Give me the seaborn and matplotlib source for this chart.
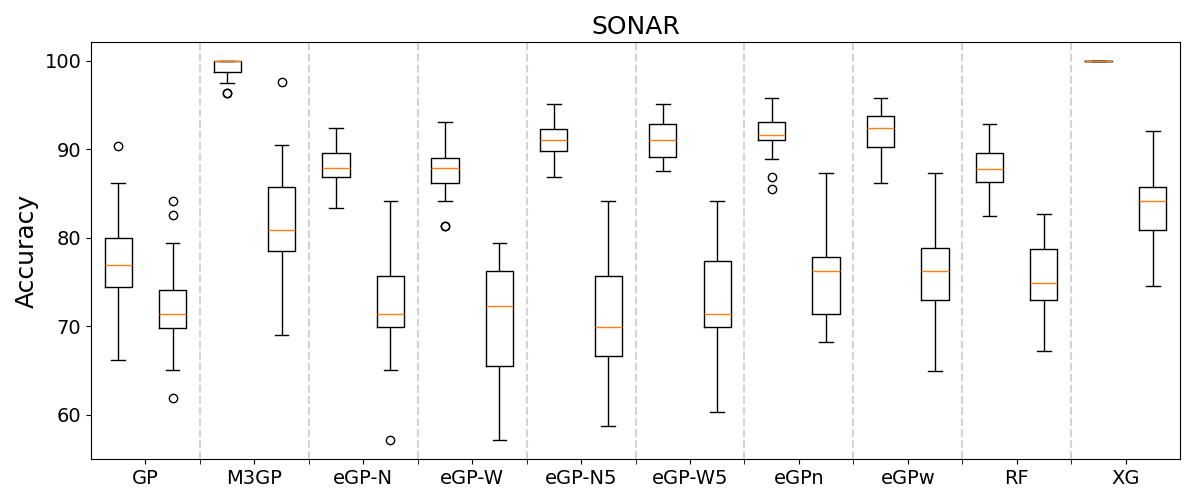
import numpy as np
import pandas as pd
import matplotlib
matplotlib.use("Agg")
import matplotlib.pyplot as plt
import seaborn as sns

# ---- data (five-number summaries + outliers) ----
categories = ["GP", "M3GP", "eGP-N", "eGP-W", "eGP-N5", "eGP-W5", "eGPn", "eGPw", "RF", "XG"]
splits = ["Train", "Test"]

train_lo = [66.2, 97.47, 83.43, 84.11, 86.86, 87.51, 88.87, 86.15, 82.52, 100.0]
train_q1 = [74.4, 98.72, 86.86, 86.2, 89.77, 89.09, 91.02, 90.30, 86.34, 100.0]
train_med = [76.9, 100.0, 87.85, 87.85, 91.05, 91.05, 91.66, 92.37, 87.74, 100.0]
train_q3 = [80.0, 100.0, 89.55, 89.0, 92.33, 92.83, 93.09, 93.74, 89.62, 100.0]
train_hi = [86.2, 100.0, 92.37, 93.09, 95.13, 95.13, 95.77, 95.77, 92.83, 100.0]
train_fliers = [[90.34], [96.4, 96.4], [], [81.3, 81.3], [], [], [86.86, 85.47], [], [], []]

test_lo = [65.08, 69.05, 65.08, 57.14, 58.7, 60.3, 68.26, 64.97, 67.24, 74.6]
test_q1 = [69.84, 78.56, 69.88, 65.46, 66.59, 69.88, 71.4, 73.01, 73.01, 80.94]
test_med = [71.43, 80.94, 71.43, 72.25, 69.88, 71.43, 76.22, 76.22, 74.94, 84.11]
test_q3 = [74.14, 85.73, 75.73, 76.22, 75.73, 77.35, 77.8, 78.90, 78.78, 85.73]
test_hi = [79.37, 90.45, 84.11, 79.37, 84.11, 84.11, 87.28, 87.28, 82.67, 92.07]
test_fliers = [[84.13, 82.54, 61.9], [97.59], [57.14], [], [], [], [], [], [], []]

yticks = [60, 70, 80, 90, 100]

# ---- build samples whose quartiles/whiskers reproduce the summaries ----
rows = []
for split, lo, q1, med, q3, hi, fl in [
    ("Train", train_lo, train_q1, train_med, train_q3, train_hi, train_fliers),
    ("Test", test_lo, test_q1, test_med, test_q3, test_hi, test_fliers),
]:
    for i, cat in enumerate(categories):
        vals = list(fl[i]) + [lo[i]] + [q1[i]] * 10 + [med[i]] * 5 + [q3[i]] * 10 + [hi[i]]
        rows += [(cat, split, v) for v in vals]
df = pd.DataFrame(rows, columns=["model", "split", "acc"])

fig, ax = plt.subplots(figsize=(12, 5), dpi=100)
fig.subplots_adjust(left=91 / 1200, right=1180 / 1200, top=1 - 42 / 500, bottom=1 - 459 / 500)

for k in range(len(categories) - 1):
    ax.axvline(k + 0.5, color="lightgray", linestyle="--", linewidth=1.5, zorder=0)

sns.boxplot(
    data=df, x="model", y="acc", hue="split",
    order=categories, hue_order=splits,
    dodge=True, width=1.0, gap=0.5, fill=False,
    palette=["black", "black"], linewidth=1.0, fliersize=6, whis=1.5,
    medianprops={"color": "#ff7f0e"},
    flierprops={"marker": "o", "markerfacecolor": "none", "markeredgecolor": "black"},
    legend=False, ax=ax,
)

ax.set_xlim(-0.5, len(categories) - 0.5)
ax.set_ylim(55.0, 102.14)
ax.set_yticks(yticks)
ax.set_xticks(np.arange(len(categories) - 1) + 0.5, minor=True)
ax.tick_params(axis="x", which="minor", length=3.5)
ax.tick_params(axis="both", which="major", labelsize=14)
ax.set_xlabel("")
ax.set_ylabel("Accuracy", fontsize=18)
ax.set_title("SONAR", fontsize=18)

fig.savefig("out.png", dpi=100)
